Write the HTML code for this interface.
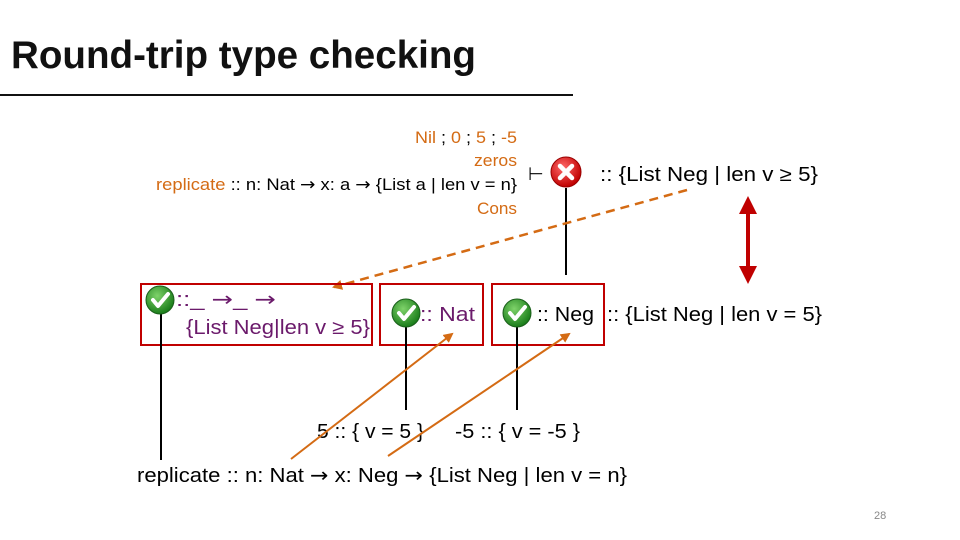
<!DOCTYPE html>
<html><head><meta charset="utf-8"><style>
html,body{margin:0;padding:0;background:#fff;}
svg{display:block;}
text{font-family:"Liberation Sans","DejaVu Sans",sans-serif;}
.a{font-family:"DejaVu Sans",sans-serif;}
</style></head><body>
<svg width="960" height="540" viewBox="0 0 960 540" xmlns="http://www.w3.org/2000/svg">
<defs>
<radialGradient id="gg" cx="40%" cy="35%" r="65%"><stop offset="0" stop-color="#7fd36a"/><stop offset="1" stop-color="#1a7d1a"/></radialGradient>
<radialGradient id="rg" cx="40%" cy="35%" r="65%"><stop offset="0" stop-color="#ff6a6a"/><stop offset="1" stop-color="#c00000"/></radialGradient>
<marker id="oa" markerWidth="10" markerHeight="10" refX="8" refY="5" orient="auto" markerUnits="userSpaceOnUse" viewBox="0 0 10 10"><path d="M0,0 L10,5 L0,10 z" fill="#d46b14"/></marker>
<g id="chk"><circle r="14" fill="url(#gg)" stroke="#1a5e1a" stroke-width="1"/><path d="M-7,0 L-2,6 L8,-6" fill="none" stroke="#fff" stroke-width="4" stroke-linecap="round" stroke-linejoin="round"/></g>
</defs>
<text x="11" y="68" font-size="39" font-weight="bold" fill="#111" textLength="465" lengthAdjust="spacingAndGlyphs">Round-trip type checking</text>
<line x1="0" y1="95" x2="573" y2="95" stroke="#111" stroke-width="2"/>

<g font-size="17">
<text x="415" y="143" fill="#d46b14" textLength="102" lengthAdjust="spacingAndGlyphs">Nil <tspan fill="#000">;</tspan> 0 <tspan fill="#000">;</tspan> 5 <tspan fill="#000">;</tspan> -5</text>
<text x="474" y="166" fill="#d46b14" textLength="43" lengthAdjust="spacingAndGlyphs">zeros</text>
<text x="156" y="190" fill="#000" textLength="361" lengthAdjust="spacingAndGlyphs"><tspan fill="#d46b14">replicate</tspan> :: n: Nat <tspan class="a">→</tspan> x: a <tspan class="a">→</tspan> {List a | len v = n}</text>
<text x="477" y="214" fill="#d46b14" textLength="40" lengthAdjust="spacingAndGlyphs">Cons</text>
</g>
<text x="528" y="180" font-size="18">⊢</text>
<circle cx="566" cy="172" r="15" fill="url(#rg)" stroke="#900" stroke-width="1"/>
<path d="M560,166 L572,178 M572,166 L560,178" stroke="#fff" stroke-width="4.5" stroke-linecap="round"/>
<text x="600" y="181" font-size="20" textLength="218" lengthAdjust="spacingAndGlyphs">::  {List Neg | len v ≥ 5}</text>
<line x1="566" y1="188" x2="566" y2="275" stroke="#000" stroke-width="2"/>

<line x1="687" y1="190" x2="334" y2="287" stroke="#d46b14" stroke-width="2.5" stroke-dasharray="9,6" marker-end="url(#oa)"/>

<line x1="748" y1="210" x2="748" y2="270" stroke="#c00000" stroke-width="4"/>
<path d="M739,214 L748,196 L757,214 z M739,266 L748,284 L757,266 z" fill="#c00000"/>

<rect x="141" y="284" width="231" height="61" fill="none" stroke="#c00000" stroke-width="2"/>
<rect x="380" y="284" width="103" height="61" fill="none" stroke="#c00000" stroke-width="2"/>
<rect x="492" y="284" width="112" height="61" fill="none" stroke="#c00000" stroke-width="2"/>

<line x1="161" y1="312" x2="161" y2="460" stroke="#000" stroke-width="2"/>
<line x1="406" y1="326" x2="406" y2="410" stroke="#000" stroke-width="2"/>
<line x1="517" y1="326" x2="517" y2="410" stroke="#000" stroke-width="2"/>

<use href="#chk" x="160" y="300"/>
<use href="#chk" x="406" y="313"/>
<use href="#chk" x="517" y="313"/>

<text x="176" y="306" font-size="20" fill="#6b1a6b" textLength="100" lengthAdjust="spacingAndGlyphs">::_ <tspan class="a">→</tspan>_ <tspan class="a">→</tspan></text>
<text x="186" y="334" font-size="20" fill="#6b1a6b" textLength="184" lengthAdjust="spacingAndGlyphs">{List Neg|len v ≥ 5}</text>
<text x="420" y="321" font-size="20" fill="#6b1a6b" textLength="55" lengthAdjust="spacingAndGlyphs">:: Nat</text>
<text x="537" y="321" font-size="20" fill="#000" textLength="57" lengthAdjust="spacingAndGlyphs">:: Neg</text>
<text x="607" y="321" font-size="20" fill="#000" textLength="215" lengthAdjust="spacingAndGlyphs">:: {List Neg | len v = 5}</text>

<text x="317" y="438" font-size="20" textLength="107" lengthAdjust="spacingAndGlyphs">5 :: { v = 5 }</text>
<text x="455" y="438" font-size="20" textLength="125" lengthAdjust="spacingAndGlyphs">-5 :: { v = -5 }</text>

<line x1="291" y1="459" x2="452" y2="334" stroke="#d46b14" stroke-width="2" marker-end="url(#oa)"/>
<line x1="388" y1="456" x2="569" y2="334" stroke="#d46b14" stroke-width="2" marker-end="url(#oa)"/>

<text x="137" y="482" font-size="20" textLength="490" lengthAdjust="spacingAndGlyphs">replicate :: n: Nat <tspan class="a">→</tspan> x: Neg <tspan class="a">→</tspan> {List Neg | len v = n}</text>
<text x="874" y="519" font-size="11" fill="#888">28</text>
</svg>
</body></html>
